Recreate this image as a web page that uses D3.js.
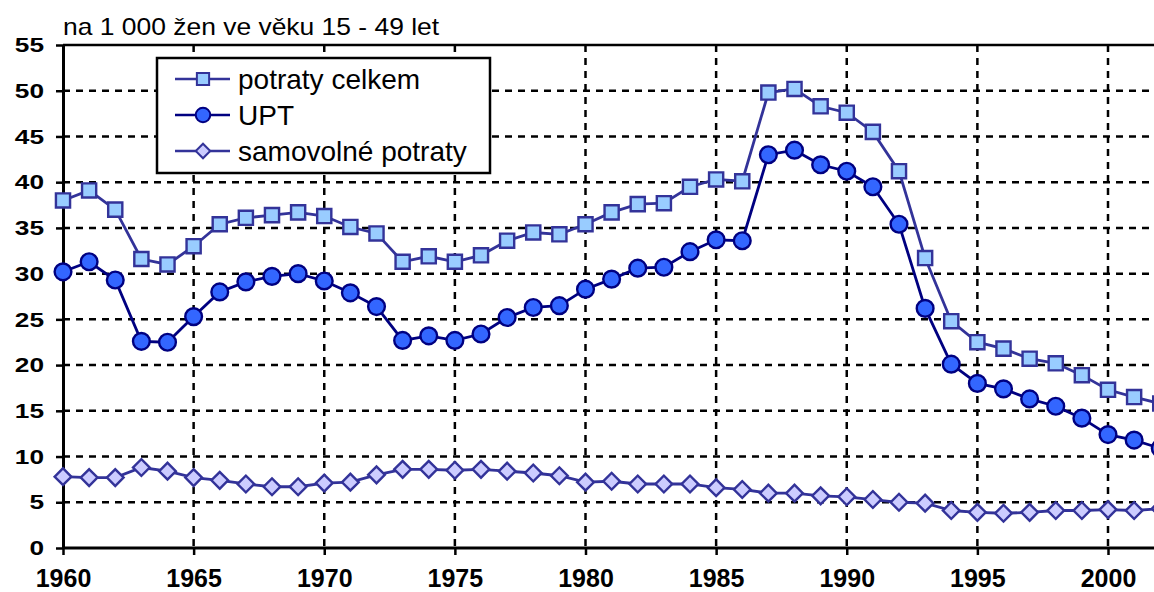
<!DOCTYPE html>
<html>
<head>
<meta charset="utf-8">
<script src="https://cdn.jsdelivr.net/npm/d3@7"></script>
<style>
  body { margin: 0; background: #fff; }
  svg { display: block; font-family: "Liberation Sans", Arial, sans-serif; }
</style>
</head>
<body>
<div id="chart"></div>
<script>
const years = d3.range(1960, 2003);
const celkem = [38.0, 39.1, 37.0, 31.6, 31.0, 33.0, 35.4, 36.1, 36.4, 36.7,
  36.3, 35.1, 34.4, 31.3, 31.9, 31.3, 32.0, 33.6, 34.5, 34.3,
  35.4, 36.7, 37.6, 37.7, 39.5, 40.3, 40.1, 49.8, 50.2, 48.3,
  47.6, 45.5, 41.2, 31.7, 24.8, 22.5, 21.8, 20.7, 20.2, 18.9,
  17.3, 16.5, 15.8];
const upt = [30.2, 31.3, 29.3, 22.6, 22.5, 25.3, 28.0, 29.1, 29.7, 30.0,
  29.2, 27.9, 26.4, 22.7, 23.2, 22.7, 23.4, 25.2, 26.3, 26.5,
  28.3, 29.4, 30.6, 30.7, 32.4, 33.7, 33.6, 43.0, 43.5, 41.9,
  41.2, 39.5, 35.4, 26.2, 20.1, 18.0, 17.4, 16.3, 15.5, 14.2,
  12.4, 11.8, 10.9];
const samovolne = [7.8, 7.7, 7.7, 8.8, 8.4, 7.7, 7.4, 7.0, 6.7, 6.7,
  7.1, 7.2, 8.0, 8.6, 8.6, 8.5, 8.6, 8.4, 8.2, 7.9,
  7.2, 7.3, 7.0, 7.0, 7.0, 6.6, 6.4, 6.0, 6.0, 5.7,
  5.6, 5.3, 5.0, 4.9, 4.1, 3.9, 3.8, 3.9, 4.1, 4.1,
  4.2, 4.1, 4.3];
const yTicks = d3.range(0, 56, 5);
const xTicks = d3.range(1960, 2001, 5);
const yLabel = "na 1 000 žen ve věku 15 - 49 let";

const series = [
  { name: "potraty celkem", values: celkem, line: "#333399", fill: "#99ccff", stroke: "#333399", symbol: d3.symbolSquare, size: 200, rot: 0 },
  { name: "UPT", values: upt, line: "#000080", fill: "#3366ff", stroke: "#000080", symbol: d3.symbolCircle, size: 220, rot: 0 },
  { name: "samovolné potraty", values: samovolne, line: "#333399", fill: "#ccccff", stroke: "#333399", symbol: d3.symbolSquare, size: 140, rot: 45 }
];

const width = 1154, height = 592;
const margin = { left: 63, top: 45, bottom: 44 };

const svg = d3.select("#chart").append("svg")
  .attr("width", width).attr("height", height);

const xScale = d3.scaleLinear().domain([1960, 2000]).range([margin.left, 1108]);
const yScale = d3.scaleLinear().domain([0, 55]).range([height - margin.bottom, margin.top]);

// grid
const grid = svg.append("g").attr("stroke", "#000").attr("stroke-width", 2.5)
  .attr("stroke-dasharray", "7,6");
grid.selectAll(".hg").data(yTicks.filter(d => d > 0 && d < 55)).join("line")
  .attr("x1", margin.left).attr("x2", width)
  .attr("y1", d => yScale(d)).attr("y2", d => yScale(d));
grid.selectAll(".vg").data(xTicks.filter(d => d > 1960)).join("line")
  .attr("x1", d => xScale(d)).attr("x2", d => xScale(d))
  .attr("y1", yScale(55)).attr("y2", yScale(0));

// top border
svg.append("line").attr("x1", margin.left).attr("x2", width)
  .attr("y1", yScale(55)).attr("y2", yScale(55))
  .attr("stroke", "#000").attr("stroke-width", 2.5);

// axes
const leftAxis = d3.axisLeft(yScale).tickValues(yTicks).tickSize(7).tickSizeOuter(0);
const gy = svg.append("g").attr("transform", `translate(${margin.left},0)`).call(leftAxis);
gy.select(".domain").attr("stroke-width", 3);
gy.selectAll(".tick line").attr("stroke-width", 2.5);
gy.selectAll("text")
  .attr("x", null)
  .attr("transform", "translate(-19,0) scale(1.25,1)")
  .attr("font-size", 21).attr("font-weight", "bold").attr("fill", "#000")
  .attr("font-family", "Liberation Sans, Arial, sans-serif");

const bottomAxis = d3.axisBottom(xScale).tickValues(xTicks).tickFormat(d3.format("d")).tickSize(7).tickSizeOuter(0).tickPadding(14);
const gx = svg.append("g").attr("transform", `translate(0,${yScale(0)})`).call(bottomAxis);
gx.select(".domain").attr("d", `M${margin.left},0H${width}`).attr("stroke-width", 3);
gx.selectAll(".tick line").attr("stroke-width", 2.5);
gx.selectAll("text").attr("font-size", 25).attr("font-weight", "bold").attr("fill", "#000")
  .attr("font-family", "Liberation Sans, Arial, sans-serif");

// unit label
svg.append("text").attr("transform", "translate(63,35) scale(1.15,1)")
  .attr("font-size", 23).attr("fill", "#000").text(yLabel);

// lines & markers
const lineGen = d3.line().x((d, i) => xScale(years[i])).y(d => yScale(d));
series.forEach(s => {
  svg.append("path").datum(s.values)
    .attr("fill", "none").attr("stroke", s.line).attr("stroke-width", 2.8)
    .attr("d", lineGen);
  svg.append("g").selectAll("path").data(s.values).join("path")
    .attr("transform", (d, i) => `translate(${xScale(years[i])},${yScale(d)}) rotate(${s.rot})`)
    .attr("d", d3.symbol().type(s.symbol).size(s.size))
    .attr("fill", s.fill).attr("stroke", s.stroke).attr("stroke-width", 2.4);
});

// legend
const legend = svg.append("g").attr("transform", "translate(157,58)");
legend.append("rect").attr("width", 333).attr("height", 115)
  .attr("fill", "#fff").attr("stroke", "#000").attr("stroke-width", 2.5);
series.forEach((s, i) => {
  const yy = 21 + i * 36;
  legend.append("line").attr("x1", 18).attr("x2", 73).attr("y1", yy).attr("y2", yy)
    .attr("stroke", s.line).attr("stroke-width", 2.5);
  legend.append("path").attr("transform", `translate(46,${yy}) rotate(${s.rot})`)
    .attr("d", d3.symbol().type(s.symbol).size(s.size * 0.75))
    .attr("fill", s.fill).attr("stroke", s.stroke).attr("stroke-width", 2);
  legend.append("text").attr("x", 81).attr("y", yy + 10).attr("font-size", 28)
    .attr("fill", "#000").text(s.name);
});
</script>
</body>
</html>
